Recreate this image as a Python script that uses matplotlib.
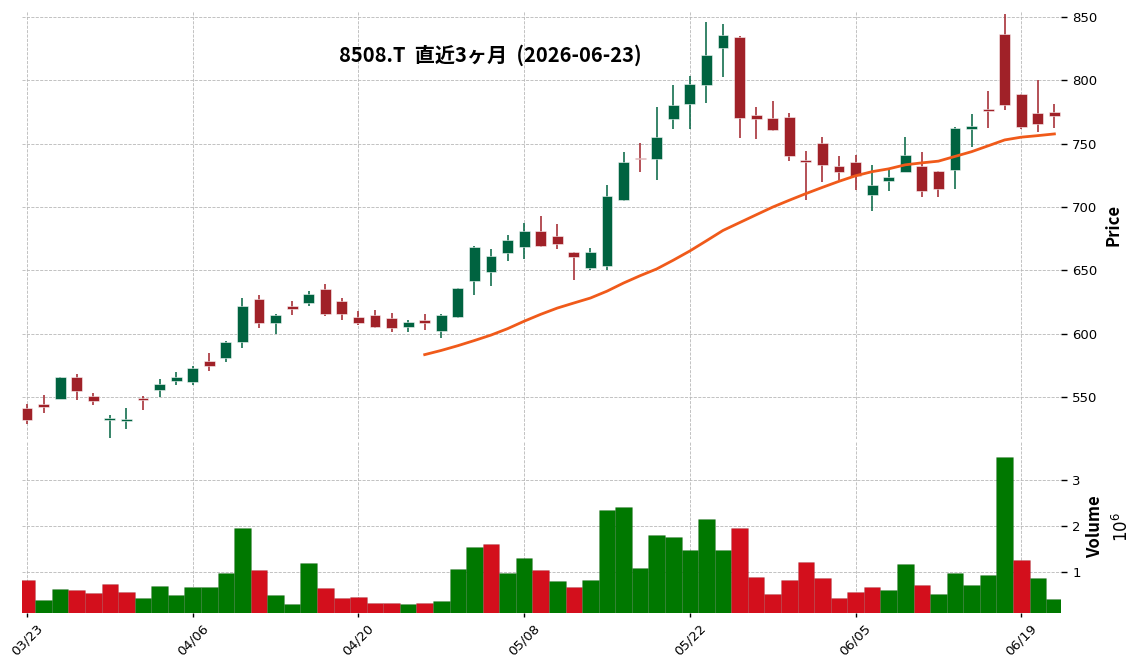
import matplotlib
matplotlib.use("Agg")
import matplotlib.pyplot as plt
import numpy as np
import pandas as pd

# 8508.T daily prices, last 3 months
holidays = ["2026-04-29", "2026-05-04", "2026-05-05", "2026-05-06"]
dates = pd.bdate_range("2026-03-23", "2026-06-23")
dates = dates[~dates.isin(pd.to_datetime(holidays))]

opens = [541.3, 544.5, 548.7, 565.9, 550.8, 531.5, 531.3, 549.5, 555.8, 562.2,
         562.0, 578.5, 580.4, 593.1, 627.7, 608.1, 622.1, 624.0, 635.6, 626.1,
         613.4, 615.0, 612.6, 605.0, 611.0, 602.3, 612.9, 641.9, 648.5, 663.6,
         668.3, 680.7, 676.8, 664.1, 651.7, 653.3, 705.8, 738.6, 737.8, 769.7,
         781.6, 795.9, 825.2, 834.4, 772.6, 770.3, 771.0, 737.0, 750.4, 732.2,
         735.4, 709.5, 720.6, 727.5, 732.2, 728.3, 729.3, 761.8, 777.4, 836.8,
         789.3, 774.0, 775.3]
highs = [544.2, 551.3, 566.1, 568.0, 552.9, 535.5, 541.1, 550.6, 564.0, 569.8,
         574.3, 584.6, 593.8, 628.2, 630.8, 615.5, 626.1, 633.5, 639.3, 628.2,
         618.1, 618.7, 616.3, 610.8, 615.5, 615.2, 636.0, 668.9, 667.0, 678.1,
         687.6, 692.9, 686.8, 664.3, 667.5, 717.2, 743.6, 750.2, 778.7, 796.1,
         803.0, 846.0, 844.7, 834.6, 778.7, 783.7, 774.0, 743.8, 754.9, 740.2,
         740.9, 733.5, 729.6, 754.9, 743.1, 728.5, 763.1, 773.2, 791.6, 852.4,
         789.5, 800.4, 781.1]
lows = [528.9, 537.6, 548.5, 547.7, 543.4, 517.5, 524.4, 539.5, 550.3, 559.8,
        559.8, 570.4, 577.2, 588.6, 604.4, 599.7, 614.7, 621.8, 614.2, 610.8,
        607.1, 604.2, 601.0, 601.0, 602.8, 596.5, 612.5, 630.6, 637.4, 657.5,
        658.6, 668.3, 667.0, 642.4, 650.0, 650.0, 705.0, 727.7, 721.4, 761.3,
        761.3, 781.9, 802.5, 754.1, 753.4, 759.7, 735.9, 705.8, 719.8, 721.1,
        713.2, 697.1, 712.2, 727.5, 707.9, 707.9, 714.3, 747.0, 762.1, 776.3,
        761.8, 759.4, 762.1]
closes = [532.1, 542.4, 565.9, 554.3, 547.1, 533.4, 532.9, 547.4, 560.3, 565.9,
          573.0, 574.6, 593.6, 622.1, 608.1, 615.0, 619.2, 631.6, 615.6, 615.1,
          608.1, 605.0, 604.8, 609.4, 608.1, 615.0, 635.8, 668.1, 661.5, 673.6,
          680.7, 668.9, 670.7, 660.4, 664.1, 708.5, 735.4, 738.0, 755.5, 780.6,
          797.2, 820.2, 835.5, 770.0, 769.2, 761.0, 739.9, 735.1, 733.3, 727.5,
          724.3, 717.2, 723.5, 740.9, 712.4, 714.3, 762.3, 763.9, 776.1, 780.6,
          763.1, 765.8, 771.8]
volumes = [833000, 399000, 638000, 616000, 551000, 746000, 572000, 442000, 703000, 507000,
           681000, 681000, 993000, 1964000, 1051000, 507000, 312000, 1203000, 659000, 442000,
           464000, 333000, 333000, 312000, 333000, 377000, 1072000, 1551000, 1616000, 986000,
           1312000, 1051000, 812000, 681000, 833000, 2355000, 2420000, 1094000, 1812000, 1768000,
           1486000, 2159000, 1486000, 1964000, 899000, 529000, 833000, 1225000, 877000, 442000,
           572000, 681000, 616000, 1181000, 725000, 529000, 986000, 725000, 942000, 3507000,
           1268000, 877000, 420000]
ma_window = 25
tick_every = 10

o = np.array(opens)
h = np.array(highs)
l = np.array(lows)
c = np.array(closes)
v = np.array(volumes) / 1e6
x = np.arange(len(c))

up_c = "#006340"
dn_c = "#a02128"
vup_c = "#007800"
vdn_c = "#d30f1c"
jp = ["Noto Sans CJK JP", "DejaVu Sans"]

fig = plt.figure(figsize=(11.36, 6.70), dpi=100)
ax = fig.add_axes([0.0194, 0.3448, 0.9146, 0.6388])
axv = fig.add_axes([0.0194, 0.0855, 0.9146, 0.2563], sharex=ax)

# candles
up = c >= o
cols = np.where(up, up_c, dn_c)
ax.vlines(x, l, h, colors=cols, linewidth=1.1, zorder=3)
ax.bar(x, np.abs(c - o), bottom=np.minimum(o, c), width=0.66, color=cols,
       edgecolor=(1, 1, 1, 0.6), linewidth=0.6, zorder=4)

# moving average
ma = pd.Series(c).rolling(ma_window).mean()
ax.plot(x, ma, color="#f05a1a", linewidth=2, zorder=5)

# volume, coloured by close vs previous close
vdir = np.r_[c[0] >= o[0], c[1:] >= c[:-1]]
axv.bar(x, v, width=1.0, color=np.where(vdir, vup_c, vdn_c),
        edgecolor=(0, 0, 0, 0.12), linewidth=0.5, zorder=3)

ax.set_xlim(-0.3, len(c) - 0.6)
ax.set_ylim(516.8, 854.7)
axv.set_ylim(0.123, 1.1 * v.max())

for a in (ax, axv):
    for s in a.spines.values():
        s.set_visible(False)
    a.grid(True, color="#b8b8b8", linestyle="--", linewidth=0.6, zorder=0)
    a.set_axisbelow(True)
    a.yaxis.tick_right()
    a.yaxis.set_label_position("right")
    a.tick_params(axis="y", direction="out", length=4, width=1, pad=4, labelsize=9.5)

ax.set_yticks([550, 600, 650, 700, 750, 800, 850])
axv.set_yticks([1, 2, 3])
ticks = x[::tick_every]
axv.set_xticks(ticks)
axv.set_xticklabels([dates[i].strftime("%m/%d") for i in ticks], rotation=45,
                    ha="center", fontsize=9.5)
axv.tick_params(axis="x", length=3, width=1)
ax.tick_params(axis="x", length=0, labelbottom=False)

ax.set_ylabel("Price", fontsize=12, fontweight="bold", family=jp, labelpad=5)
axv.set_ylabel("Volume\n$10^{6}$", fontsize=12, fontweight="bold", family=jp,
               linespacing=1.5, labelpad=4)

fig.text(0.432, 0.918, "8508.T  直近3ヶ月  (2026-06-23)", ha="center", va="center",
         fontsize=14.5, fontweight="bold", family=jp)

fig.savefig("out.png", dpi=100)
